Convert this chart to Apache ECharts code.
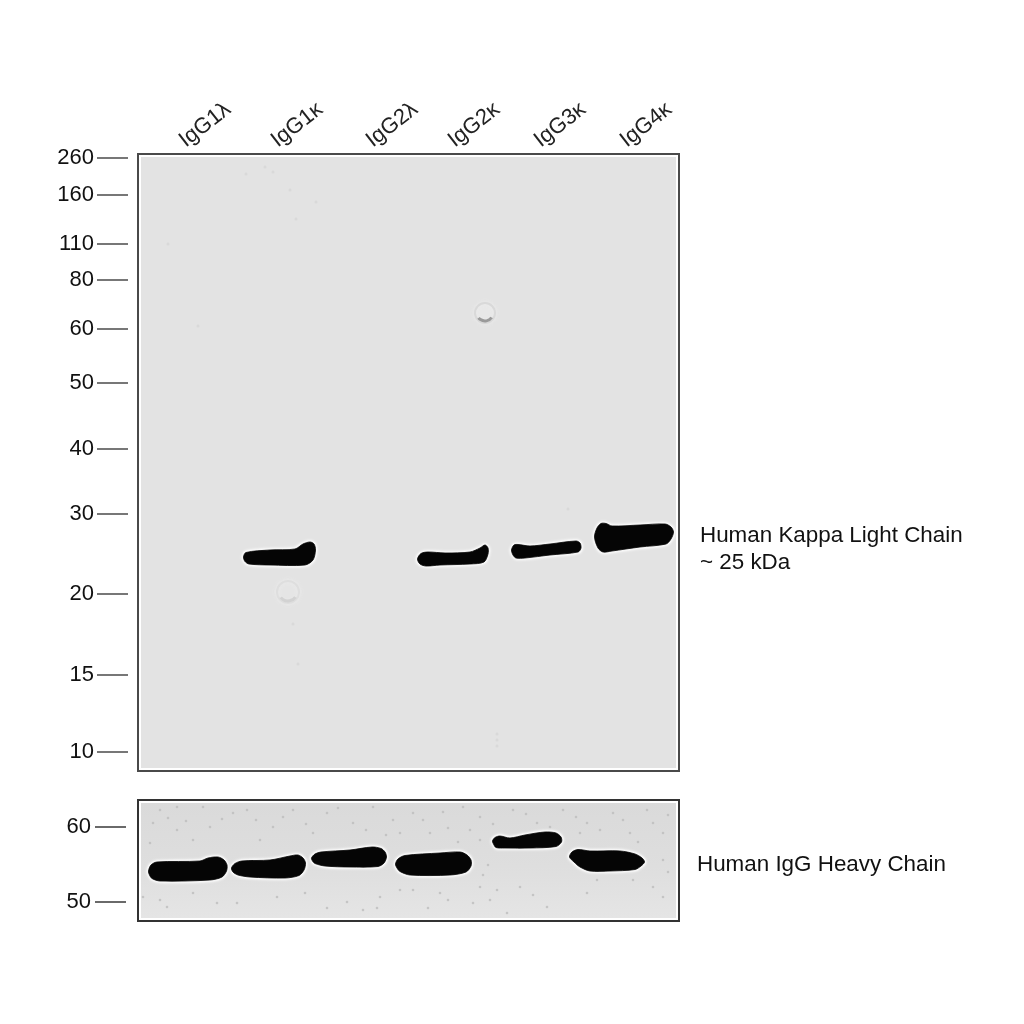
<!DOCTYPE html>
<html><head><meta charset="utf-8">
<style>html,body{margin:0;padding:0;background:#fff}#c{width:1024px;height:1024px;filter:blur(.35px)}</style>
<script src="https://cdn.jsdelivr.net/npm/echarts@6/dist/echarts.min.js"></script>
</head><body><div id="c"></div>
<script>
const laneNames = ['IgG1λ','IgG1κ','IgG2λ','IgG2κ','IgG3κ','IgG4κ'];
const laneLabelPos = [44,136,231,313,399,485];
const kappaLadder = ['260','160','110','80','60','50','40','30','20','15','10'];
const kappaLadderPos = [4,41,90,126,175,229,295,360,440,521,598];
const heavyLadder = ['60','50'];
const heavyLadderPos = [27,102];

// band outlines: [lane position, migration distance]
const kappaIgG1k = [[105.5,403],[108,398.5],[132,396],[157,395],[165,390],[172,388],[176,390],[177.5,396],[175,406],[167,411],[132,411],[111,410],[107,407.5]];
const kappaIgG2k = [[279.5,405],[283,399.5],[290,398],[307,399],[332,398],[342,394],[347,391],[350,394],[350,400],[346,408],[332,410],[302,411],[288,412],[282,410]];
const kappaIgG3k = [[373.5,396],[376,391],[380,390.5],[392,392],[412,390],[438,387],[442,389],[443,394],[440,398],[412,401],[387,404],[378,404],[375,401]];
const kappaIgG4k = [[456.5,383],[459,374],[463,369.5],[468,369.5],[474,372],[502,371],[527,370],[533,373],[535.5,378],[533,385],[528,390],[502,393],[474,397],[465,398],[460,394]];
const heavyIgG1l = [[10.5,71],[13,65],[19,62],[62,61],[70,58],[80,57],[86,60],[89,65],[88.5,71],[84,77],[72,80],[22,81],[14,78.5],[11.5,75]];
const heavyIgG1k = [[93.5,68],[97,63.5],[104,61],[132,60],[152,56],[160,55],[165,58],[167.5,63],[166,70],[161,75.5],[147,78],[112,77],[100,75],[95,72]];
const heavyIgG2l = [[173.5,58],[177,54],[183,52],[212,50],[234,47],[243,48.5],[247,52],[248.5,57],[246,63],[240,66.5],[212,67],[187,66],[177,63.5],[174.5,61]];
const heavyIgG2k = [[257.5,64],[260,59],[267,55.5],[302,53],[322,52],[329,55],[333,60],[333,66],[328,72],[312,75],[272,75],[262,71.5],[259,68]];
const heavyIgG3k = [[354.5,41],[357,37.5],[362,36],[372,38],[387,35],[407,32],[418,33],[423,37],[423.5,42],[418,46.5],[392,48],[367,48],[358,47.5],[355.5,44]];
const heavyIgG4k = [[431.5,57],[434,52],[440,49.5],[452,51],[482,51],[497,54],[504,58],[506.5,62],[503,66],[497,69.5],[472,71],[452,71],[442,67],[436,62]];

const kappaRings = [[347,159],[150,438]];
const kappaSpecks = [[127,13],[152,36],[178,48],[158,65],[135,18],[108,20],[30,90],[60,172],[359,580],[359,586],[359,592],[155,470],[160,510],[430,355]];
const heavySpecks = [[22,10],[39,7],[65,7],[72,27],[95,13],[109,10],[135,27],[155,10],[189,13],[215,23],[235,7],[255,20],[39,30],[15,23],[12,43],[55,40],[122,40],[175,33],[22,100],[29,107],[55,93],[79,103],[99,103],[139,97],[189,108],[225,110],[239,108],[209,102],[242,97],[167,93],[5,97],
[275,13],[292,33],[262,33],[325,7],[342,17],[375,10],[399,23],[425,10],[449,23],[475,13],[509,10],[525,33],[342,40],[442,33],[492,33],[515,23],[342,87],[359,90],[275,90],[302,93],[262,90],[382,87],[335,103],[369,113],[409,107],[449,93],[515,87],[525,97],[459,80],[495,80],
[30,18],[48,21],[84,19],[118,20],[145,17],[168,24],[200,8],[228,30],[248,35],[285,20],[310,28],[332,30],[355,24],[388,14],[412,27],[438,17],[462,30],[485,20],[500,42],[530,15],[305,12],[320,42],[350,65],[345,75],[310,100],[290,108],[352,100],[395,95],[525,60],[530,72]];

function bandSeries(outlines, idx){
  return {type:'custom',xAxisIndex:idx,yAxisIndex:idx,clip:true,z:5,
    data:outlines.map((o,i)=>[i]),
    encode:{x:[],y:[]},
    renderItem(params,api){
      const pts = outlines[api.value(0)].map(p=>api.coord(p));
      const shape = {points:pts,smooth:0.3};
      return {type:'group',children:[
        {type:'polygon',shape,style:{fill:'#ffffff',stroke:'#f6f6f6',lineWidth:3.5,lineJoin:'round',shadowBlur:3,shadowColor:'#ffffff'}},
        {type:'polygon',shape,style:{fill:'#050505',stroke:'#050505',lineWidth:0.8,lineJoin:'round'}}
      ]};
    }};
}
function panelSeries(idx,w,h){
  return {type:'custom',xAxisIndex:idx,yAxisIndex:idx,z:1,silent:true,data:[[0]],encode:{x:[],y:[]},
    renderItem(params,api){
      const a=api.coord([0,0]), b=api.coord([w,h]);
      return {type:'rect',shape:{x:a[0]+3,y:a[1]+3,width:b[0]-a[0]-6,height:b[1]-a[1]-6},
        style:{fill:idx===0?'#e3e3e3':new echarts.graphic.LinearGradient(0,0,0,1,[
          {offset:0,color:'#dadada'},{offset:.55,color:'#dedede'},{offset:1,color:'#e5e5e5'}])}};
    }};
}
const option = {
  animation:false,
  backgroundColor:'#ffffff',
  textStyle:{fontFamily:'"Liberation Sans",Arial,sans-serif'},
  grid:[
    {left:138,width:541,top:154,height:617,show:true,backgroundColor:'#fff',borderColor:'#4a4a4a',borderWidth:2},
    {left:138,width:541,top:800,height:121,show:true,backgroundColor:'#fff',borderColor:'#333333',borderWidth:2}
  ],
  xAxis:[
    {gridIndex:0,type:'value',position:'top',min:0,max:541,splitLine:{show:false},axisLine:{show:false},
     axisTick:{show:false},
     axisLabel:{customValues:laneLabelPos,rotate:38,margin:11,fontSize:22,color:'#222',
       formatter:v=>laneNames[laneLabelPos.indexOf(v)]}},
    {gridIndex:1,type:'value',min:0,max:541,show:false}
  ],
  yAxis:[
    {gridIndex:0,type:'value',position:'left',inverse:true,min:0,max:617,offset:10,splitLine:{show:false},axisLine:{show:false,onZero:false},
     axisTick:{length:31,customValues:kappaLadderPos,lineStyle:{color:'#555',width:1.6}},
     axisLabel:{customValues:kappaLadderPos,margin:34,fontSize:22,color:'#111',padding:[0,0,4,0],
       formatter:v=>kappaLadder[kappaLadderPos.indexOf(v)]}},
    {gridIndex:1,type:'value',position:'left',inverse:true,min:0,max:121,offset:12,splitLine:{show:false},axisLine:{show:false,onZero:false},
     axisTick:{length:31,customValues:heavyLadderPos,lineStyle:{color:'#444',width:1.6}},
     axisLabel:{customValues:heavyLadderPos,margin:35,fontSize:22,color:'#111',
       formatter:v=>heavyLadder[heavyLadderPos.indexOf(v)]}}
  ],
  series:[
    panelSeries(0,541,617),
    panelSeries(1,541,121),
    {type:'scatter',xAxisIndex:0,yAxisIndex:0,z:2,symbolSize:3,data:kappaSpecks,itemStyle:{color:'#d6d6d6'},silent:true},
    {type:'scatter',xAxisIndex:1,yAxisIndex:1,z:2,symbolSize:2.6,data:heavySpecks,itemStyle:{color:'#bdbdbd'},silent:true},
    {type:'custom',xAxisIndex:0,yAxisIndex:0,z:3,data:kappaRings,encode:{x:0,y:1},
      renderItem(params,api){
        const c=api.coord([api.value(0),api.value(1)]);
        const first=params.dataIndex===0;
        const r=first?10:11;
        return {type:'group',children:[
          {type:'circle',shape:{cx:c[0],cy:c[1],r:r},style:{fill:first?'#e8e8e8':'#e5e5e5',stroke:first?'#d9d9d9':'#dedede',lineWidth:2,shadowBlur:4,shadowColor:'#ececec'}},
          {type:'arc',shape:{cx:c[0],cy:c[1],r:r-2,startAngle:0.6,endAngle:2.5},
            style:{fill:null,stroke:first?'#9a9a9a':'#d2d2d2',lineWidth:3}}
        ]};
      }},
    bandSeries([kappaIgG1k,kappaIgG2k,kappaIgG3k,kappaIgG4k],0),
    bandSeries([heavyIgG1l,heavyIgG1k,heavyIgG2l,heavyIgG2k,heavyIgG3k,heavyIgG4k],1)
  ],
  graphic:[
    {type:'text',left:700,top:525,style:{text:'Human Kappa Light Chain',fontSize:22.4,fill:'#111',fontFamily:'"Liberation Sans"'}},
    {type:'text',left:700,top:552,style:{text:'~ 25 kDa',fontSize:22.4,fill:'#111',fontFamily:'"Liberation Sans"'}},
    {type:'text',left:697,top:854,style:{text:'Human IgG Heavy Chain',fontSize:22.4,fill:'#111',fontFamily:'"Liberation Sans"'}}
  ]
};
echarts.init(document.getElementById('c'),null,{renderer:'canvas'}).setOption(option);
</script></body></html>
